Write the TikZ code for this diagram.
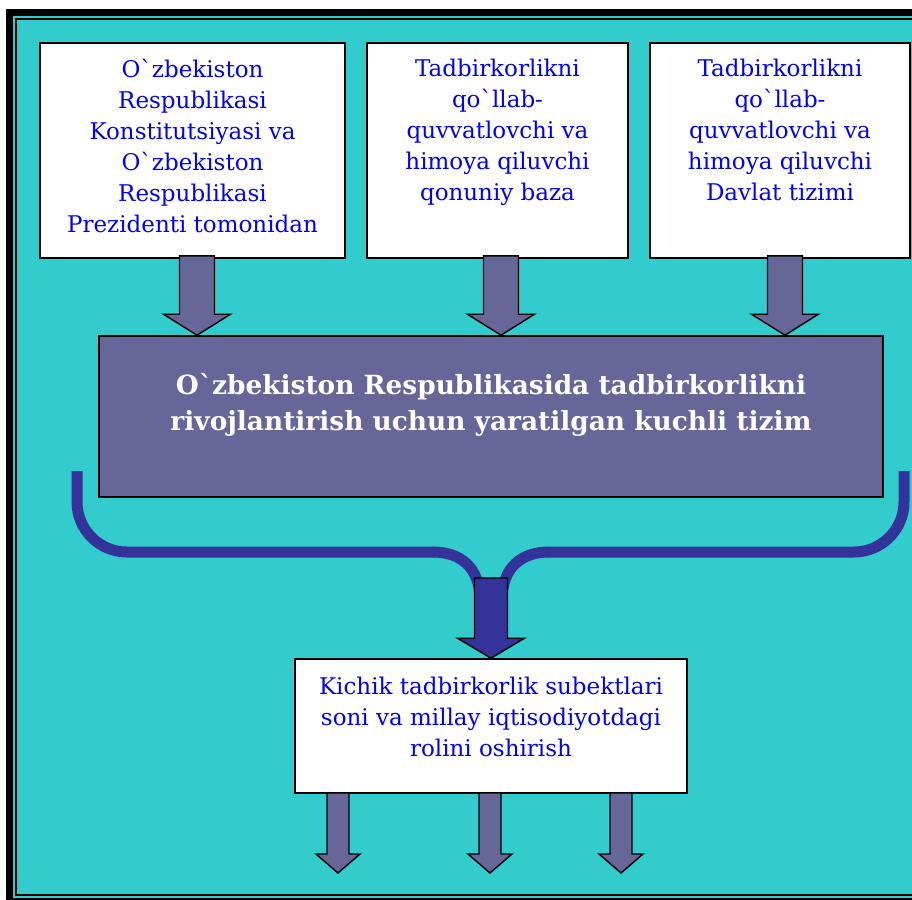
\documentclass[tikz,border=0pt]{standalone}
\usepackage{fontspec}
\setmainfont{DejaVu Serif}
\usetikzlibrary{calc,positioning}
\definecolor{sea}{HTML}{33CCCC}
\definecolor{slate}{HTML}{666699}
\definecolor{navy}{HTML}{333399}
\definecolor{ink}{HTML}{0000FF}
\newcommand{\gr}{\textasciigrave}
\tikzstyle{wbox}=[draw,line width=1.6pt,fill=white,inner sep=0pt]
\tikzstyle{btext}=[inner sep=0pt,text=ink,align=center,font=\fontsize{23}{31}\selectfont]
\tikzstyle{mtext}=[inner sep=0pt,text=white,align=center,font=\fontsize{26.4}{36}\selectfont\bfseries]
\tikzstyle{brace}=[draw=navy,line width=11pt]
% start point, end point, half shaft, half head, head length, style
\newcommand{\blockarrow}[6]{%
\draw[line width=1.4pt,#6] let \p1=(#1), \p2=(#2) in
  (\x1-#3,\y1) -- (\x1-#3,\y2+#5) -- (\x1-#4,\y2+#5) -- (\x1,\y2)
  -- (\x1+#4,\y2+#5) -- (\x1+#3,\y2+#5) -- (\x1+#3,\y1) -- cycle;}

\begin{document}
\begin{tikzpicture}[x=1pt,y=-1pt]
\useasboundingbox (0,0) rectangle (912,899);
\fill[sea] (6,9) rectangle (930,905);
\draw[line width=7pt] (9.5,12.5) rectangle (926,901.5);
\draw[line width=2pt] (16,19) rectangle (919,895);

\node [wbox,minimum width=305pt,minimum height=215pt] (b1) at (192.5,150.5) {};
\node [wbox,minimum width=261pt,minimum height=215pt] (b2) at (497.5,150.5) {};
\node [wbox,minimum width=260pt,minimum height=215pt] (b3) at (780,150.5) {};
\node [btext,below=17pt of b1.north] (t1) {O\gr zbekiston\\Respublikasi\\Konstitutsiyasi va\\O\gr zbekiston\\Respublikasi\\Prezidenti tomonidan};
\node [btext,below=17pt of b2.north] (t2) {Tadbirkorlikni\\qo\gr llab-\\quvvatlovchi va\\himoya qiluvchi\\qonuniy baza};
\node [btext,below=17pt of b3.north] (t3) {Tadbirkorlikni\\qo\gr llab-\\quvvatlovchi va\\himoya qiluvchi\\Davlat tizimi};

\node [wbox,fill=slate,minimum width=784pt,minimum height=161pt] (main) at (491,416.5) {};
\node [mtext,below=38pt of main.north] (mt) {O\gr zbekiston Respublikasida tadbirkorlikni\\rivojlantirish uchun yaratilgan kuchli tizim};

\blockarrow{$(b1.south)+(4.5,-3)$}{main.north}{17.5pt}{33.5pt}{21pt}{fill=slate}
\blockarrow{$(b2.south)+(3.5,-3)$}{main.north}{17.5pt}{33.5pt}{21pt}{fill=slate}
\blockarrow{$(b3.south)+(5,-3)$}{main.north}{17.5pt}{33.5pt}{21pt}{fill=slate}

\node [wbox,minimum width=392pt,minimum height=134pt] (res) at (491,726) {};
\node [btext,below=19pt of res.north] (rt) {Kichik tadbirkorlik subektlari\\soni va millay iqtisodiyotdagi\\rolini oshirish};

\draw[brace,rounded corners=50pt] (77,471) -- (77,552) -- (434,552);
\draw[brace,rounded corners=50pt] (904,471) -- (904,552) -- (548,552);
\draw[brace] (433,552) .. controls (460,552) and (480,567) .. (480,600);
\draw[brace] (549,552) .. controls (522,552) and (502,567) .. (502,600);
\blockarrow{491,578}{res.north}{16.5pt}{33.5pt}{20pt}{fill=navy}

\coordinate (e1) at (338,873);
\coordinate (e2) at (490,873);
\coordinate (e3) at (621,873);
\blockarrow{$(res.south -| e1)+(0,-1)$}{e1}{11pt}{22pt}{19pt}{fill=slate}
\blockarrow{$(res.south -| e2)+(0,-1)$}{e2}{11pt}{22pt}{19pt}{fill=slate}
\blockarrow{$(res.south -| e3)+(0,-1)$}{e3}{11pt}{22pt}{19pt}{fill=slate}
\end{tikzpicture}
\end{document}
